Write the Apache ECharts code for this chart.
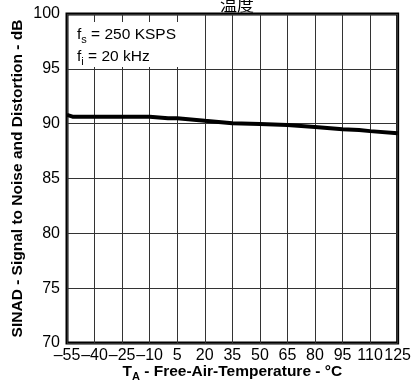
<!DOCTYPE html>
<html>
<head>
<meta charset="utf-8">
<script src="https://cdn.jsdelivr.net/npm/echarts@6/dist/echarts.min.js"></script>
<style>
  html, body { margin: 0; padding: 0; background: #fff; }
  #chart { width: 414px; height: 392px; }
</style>
</head>
<body>
<div id="chart"></div>
<script>
// SINAD vs free-air temperature
const tempTicks = [-55, -40, -25, -10, 5, 20, 35, 50, 65, 80, 95, 110, 125];
const temps = [-55, -52, -10, 0, 5, 20, 35, 50, 65, 80, 95, 104, 110, 125];
const sinad = [90.8, 90.64, 90.64, 90.5, 90.49, 90.26, 90.04, 89.97, 89.88, 89.7, 89.49, 89.43, 89.32, 89.13];

// axis ticks run from min, so shift temperatures so -55 lands on 0
const T0 = tempTicks[0];
const fmtTemp = (v) => (v < 0 ? '\u2013' + Math.abs(v) : String(v));

const chart = echarts.init(document.getElementById('chart'));
const font = '"Liberation Sans", Arial, Helvetica, sans-serif';

chart.setOption({
  animation: false,
  textStyle: { fontFamily: font },
  title: {
    text: '温度',
    left: 232,
    textAlign: 'center',
    top: -9,
    textStyle: { fontFamily: '"Noto Sans CJK SC", sans-serif', fontSize: 17, fontWeight: 'normal', color: '#000' },
  },
  grid: {
    left: 67, right: 16, top: 14, bottom: 49,
    show: true, borderColor: '#000', borderWidth: 3, backgroundColor: 'transparent',
  },
  xAxis: {
    type: 'value',
    min: 0,
    max: tempTicks[tempTicks.length - 1] - T0,
    interval: 15,
    axisLine: { show: false },
    axisTick: { show: false },
    splitLine: { show: true, lineStyle: { color: '#333', width: 1 } },
    axisLabel: {
      color: '#000', fontSize: 16, fontFamily: font, margin: 5,
      formatter: (v) => fmtTemp(v + T0),
    },
    name: '{b|T}{s|A}{b| - Free-Air-Temperature - °C}',
    nameLocation: 'middle',
    nameGap: 19,
    nameMoveOverlap: false,
    nameTextStyle: {
      rich: {
        b: { fontSize: 15.5, fontWeight: 'bold', color: '#000', fontFamily: font },
        s: { fontSize: 11, fontWeight: 'bold', color: '#000', fontFamily: font, verticalAlign: 'bottom', padding: [9, 0, 0, 0] },
      },
    },
  },
  yAxis: {
    type: 'value',
    min: 70, max: 100, interval: 5,
    axisLine: { show: false },
    axisTick: { show: false },
    splitLine: { show: true, lineStyle: { color: '#333', width: 1 } },
    axisLabel: { color: '#000', fontSize: 16, fontFamily: font, margin: 7 },
    name: 'SINAD - Signal to Noise and Distortion - dB',
    nameLocation: 'middle',
    nameGap: 41,
    nameMoveOverlap: false,
    nameTextStyle: { fontSize: 15.5, fontWeight: 'bold', color: '#000', fontFamily: font },
  },
  graphic: [
    { type: 'rect', shape: { x: 69, y: 22, width: 120, height: 45 }, style: { fill: '#fff' }, z: 5 },
    {
      type: 'text', left: 77, top: 27, z: 6,
      style: {
        text: '{n|f}{s|s}{n| = 250 KSPS}',
        rich: {
          n: { fontSize: 15.5, fill: '#000', fontFamily: font },
          s: { fontSize: 11, fill: '#000', fontFamily: font, padding: [9, 0, 0, 0] },
        },
      },
    },
    {
      type: 'text', left: 77, top: 49, z: 6,
      style: {
        text: '{n|f}{s|i}{n| = 20 kHz}',
        rich: {
          n: { fontSize: 15.5, fill: '#000', fontFamily: font },
          s: { fontSize: 11, fill: '#000', fontFamily: font, padding: [9, 0, 0, 0] },
        },
      },
    },
  ],
  series: [
    {
      type: 'line',
      data: temps.map((t, i) => [t - T0, sinad[i]]),
      symbol: 'none',
      lineStyle: { color: '#000', width: 4 },
      z: 10,
    },
  ],
});
</script>
</body>
</html>
